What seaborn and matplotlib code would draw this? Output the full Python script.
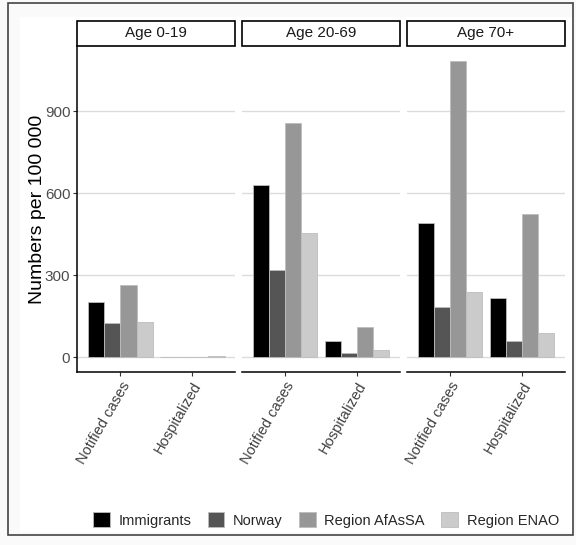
#import modules
import pandas as pd
import seaborn as sns
import matplotlib.pyplot as plt
from matplotlib.patches import Rectangle, Patch

#data
ages = ['Age 0-19', 'Age 20-69', 'Age 70+']
measures = ['Notified cases', 'Hospitalized']
groups = ['Immigrants', 'Norway', 'Region AfAsSA', 'Region ENAO']
colors = ['#000000', '#555555', '#979797', '#cbcbcb']

notified_0_19 = [201, 125, 266, 128]
hosp_0_19 = [0.8, 0.5, 1.0, 5]
notified_20_69 = [630, 321, 858, 455]
hosp_20_69 = [60, 17, 111, 26]
notified_70 = [490, 183, 1084, 238]
hosp_70 = [217, 59, 523, 90]

values = {
    ('Age 0-19', 'Notified cases'): notified_0_19,
    ('Age 0-19', 'Hospitalized'): hosp_0_19,
    ('Age 20-69', 'Notified cases'): notified_20_69,
    ('Age 20-69', 'Hospitalized'): hosp_20_69,
    ('Age 70+', 'Notified cases'): notified_70,
    ('Age 70+', 'Hospitalized'): hosp_70,
}
rows = []
for (age, measure), vals in values.items():
    for g, v in zip(groups, vals):
        rows.append({'age': age, 'measure': measure, 'group': g, 'value': v})
df = pd.DataFrame(rows)

sns.set_style('white')
plt.rcParams['font.family'] = ['Liberation Sans', 'DejaVu Sans']

W, H = 576, 545
fig = plt.figure(figsize=(W / 100, H / 100), dpi=100, facecolor='#fafafa')

#background and outer frame
fig.patches.append(Rectangle((20 / W, 1 - 532 / H), 552 / W, 515 / H, transform=fig.transFigure,
                             facecolor='white', edgecolor='none', zorder=-10))
fig.patches.append(Rectangle((8 / W, 1 - 535 / H), 565 / W, 532 / H, transform=fig.transFigure,
                             facecolor='none', edgecolor='#444444', lw=1.2, zorder=5))

lefts = [77.3, 242, 407]
pw = 158
top, bottom = 46, 372.3
ph = bottom - top
strip_h = 25

for i, (age, left) in enumerate(zip(ages, lefts)):
    ax = fig.add_axes([left / W, 1 - bottom / H, pw / W, ph / H])
    ax.set_facecolor('none')
    sub = df[df['age'] == age]
    sns.barplot(data=sub, x='measure', y='value', hue='group', order=measures,
                hue_order=groups, palette=colors, width=0.9, ax=ax,
                edgecolor='#bdbdbd', linewidth=0.6, legend=False)
    ax.set_xlim(-0.6, 1.6)
    ax.set_ylim(-54.2, 1138.2)
    ax.set_yticks([0, 300, 600, 900])
    ax.yaxis.grid(True, color='#dcdcdc', lw=1)
    ax.set_axisbelow(True)
    ax.set_xlabel('')
    ax.set_ylabel('')
    for s in ['top', 'right']:
        ax.spines[s].set_visible(False)
    ax.spines['bottom'].set_color('black')
    ax.spines['bottom'].set_linewidth(1.1)
    if i == 0:
        ax.spines['left'].set_color('black')
        ax.spines['left'].set_linewidth(1.1)
        ax.tick_params(axis='y', length=3, width=0.8, color='#333333',
                       labelsize=11, labelcolor='#4d4d4d', pad=2, left=True)
    else:
        ax.spines['left'].set_visible(False)
        ax.tick_params(axis='y', left=False, labelleft=False)
    ax.tick_params(axis='x', length=3, width=0.8, color='#333333', bottom=True, pad=2)
    ax.set_xticks([0, 1])
    ax.set_xticklabels(measures, rotation=60, ha='right', va='top',
                       rotation_mode='anchor', fontsize=10.5, color='#404040')
    #strip box
    ax.add_patch(Rectangle((0, 1), 1, strip_h / ph, transform=ax.transAxes, clip_on=False,
                           facecolor='white', edgecolor='black', lw=1.2))
    ax.text(0.5, 1 + strip_h / ph / 2, age, transform=ax.transAxes, ha='center',
            va='center', fontsize=11, color='#1a1a1a')

fig.text(38 / W, 1 - 209 / H, 'Numbers per 100 000', rotation=90, ha='center',
         va='center', fontsize=14, color='black')

handles = [Patch(facecolor=c, edgecolor='#bdbdbd', lw=0.6) for c in colors]
fig.legend(handles, groups, ncol=4, loc='center', bbox_to_anchor=(326 / W, 1 - 520 / H),
           frameon=False, fontsize=10.5, handlelength=1.15, handleheight=1.15,
           handletextpad=0.6, columnspacing=1.1)

#save fig as png
plt.savefig('out.png', dpi=100, facecolor=fig.get_facecolor())
